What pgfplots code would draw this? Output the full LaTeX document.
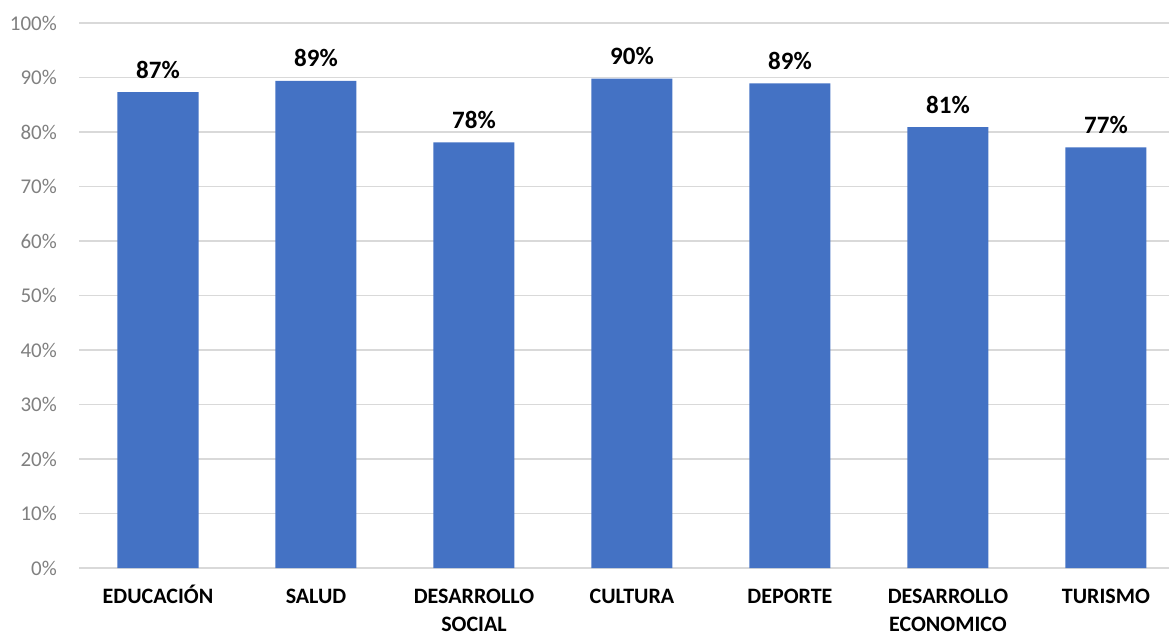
\documentclass[border=0pt]{standalone}
\usepackage{fontspec}
\setmainfont{Carlito}
\usepackage{pgfplots}
\pgfplotsset{compat=1.18}
\definecolor{barblue}{HTML}{4472C4}
\definecolor{gridgray}{HTML}{D9D9D9}
\definecolor{tickgray}{HTML}{808080}
\begin{document}
\begin{tikzpicture}
\begin{axis}[
  scale only axis,
  width=1090pt, height=545pt,
  xmin=-0.5, xmax=6.399,
  ymin=0, ymax=100,
  ybar, bar width=81pt,
  axis line style={draw=none},
  ymajorgrids, grid style={gridgray, line width=1.5pt},
  ytick={0,10,...,100},
  yticklabel={\pgfmathprintnumber{\tick}\%},
  /pgf/number format/assume math mode=true,
  major tick length=0pt,
  yticklabel style={font=\fontsize{21}{25}\selectfont, text=tickgray, anchor=east, inner sep=0pt, xshift=-22pt},
  xtick={0,1,2,3,4,5,6},
  xticklabels={EDUCACI\smash{Ó}N,SALUD,DESARROLLO\\SOCIAL,CULTURA,DEPORTE,DESARROLLO\\ECONOMICO,TURISMO},
  xticklabel style={font=\bfseries\fontsize{22}{27.5}\selectfont, align=center, anchor=north, inner sep=0pt, yshift=-21pt},
  nodes near coords={\pgfmathprintnumber[fixed,precision=0]{\pgfplotspointmeta}\%},
  nodes near coords style={font=\bfseries\fontsize{25}{30}\selectfont, text=black, anchor=base, inner sep=0pt, yshift=14pt},
  clip=false,
]
\draw[gridgray, line width=1.5pt] (axis cs:-0.5,0) -- (axis cs:6.399,0);
\addplot[fill=barblue, draw=none] coordinates {
  (0,87.3) (1,89.4) (2,78.1) (3,89.8) (4,88.9) (5,80.9) (6,77.2)
};
\end{axis}
\pgfresetboundingbox
\useasboundingbox ([xshift=-79pt,yshift=-67pt]current axis.south west) rectangle ([yshift=23pt]current axis.north east);
\end{tikzpicture}
\end{document}
